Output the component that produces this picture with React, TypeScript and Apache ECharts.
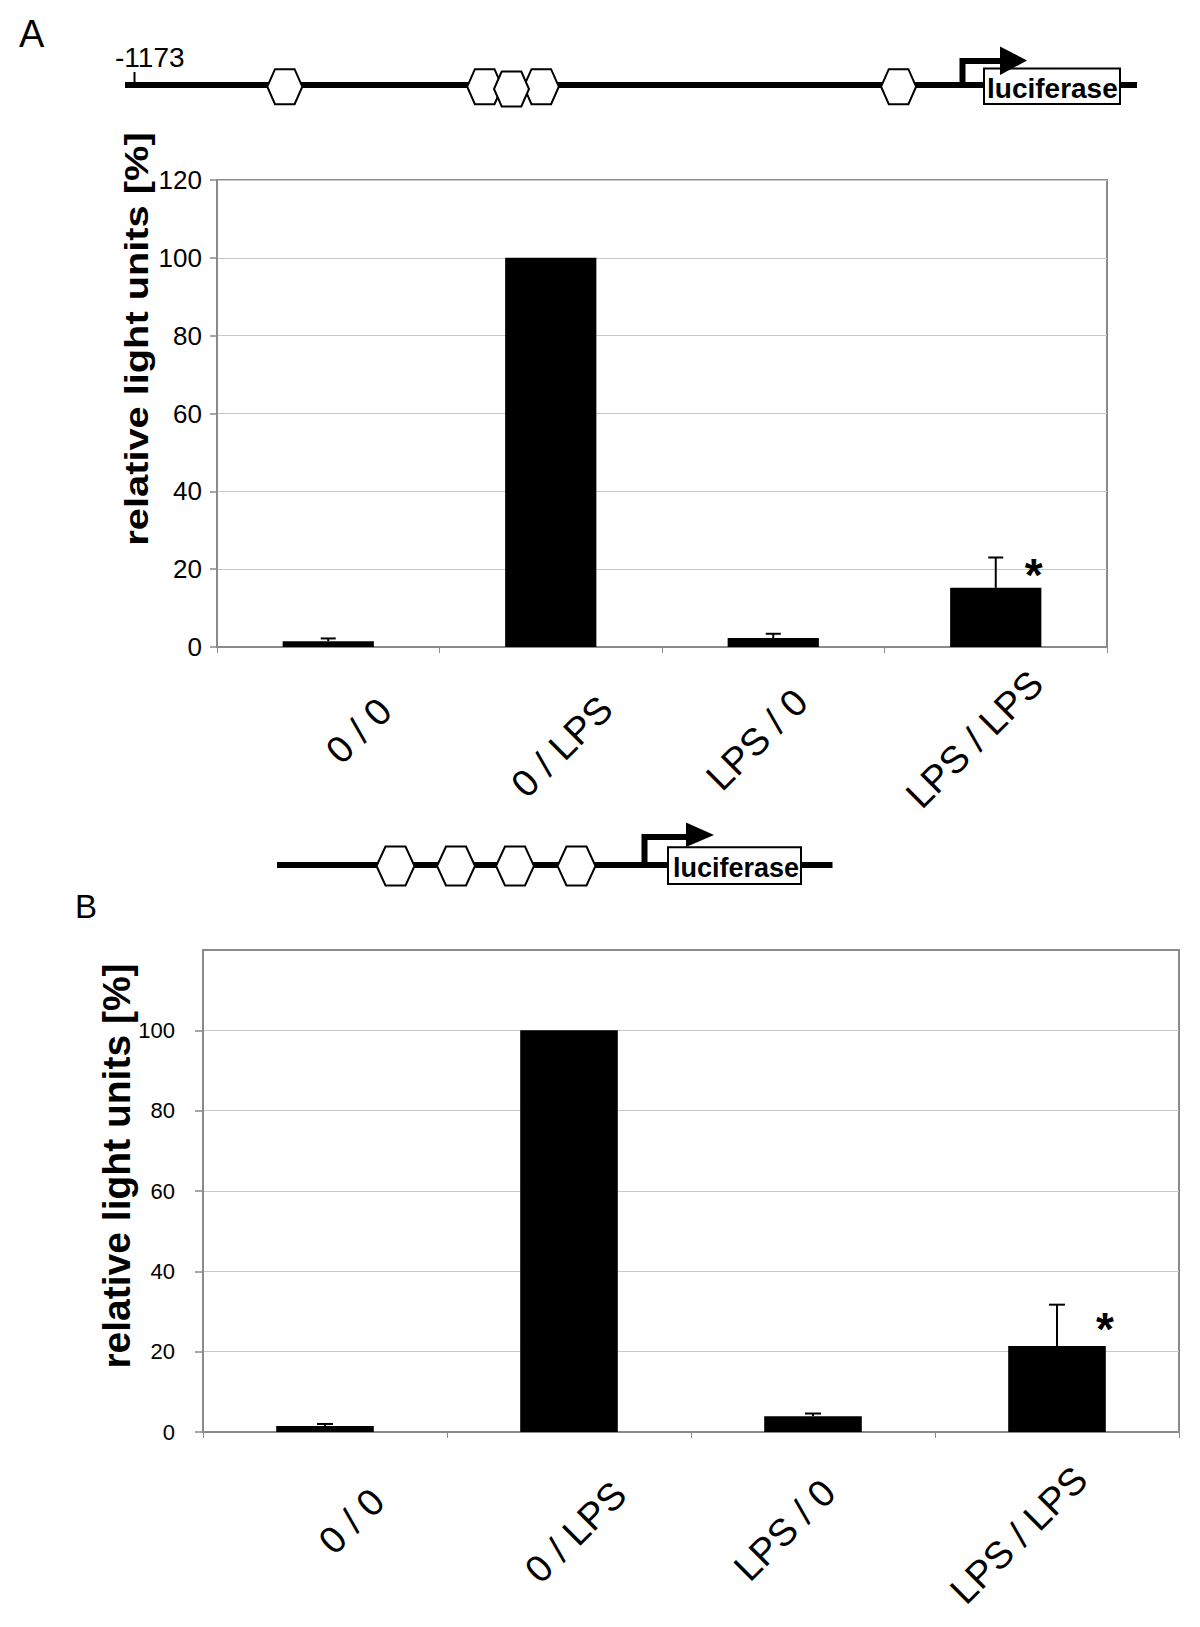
import React, { useEffect, useRef } from 'react';
import * as echarts from 'echarts';

// ---------- data ----------
const categories = ['0 / 0', '0 / LPS', 'LPS / 0', 'LPS / LPS'];
const valuesA = [1.5, 100, 2.3, 15.2];
const errorsA = [0.7, 0, 1.1, 7.8];
const significantA = [0, 0, 0, 1];
const valuesB = [1.5, 100, 3.9, 21.4];
const errorsB = [0.5, 0, 0.7, 10.3];
const significantB = [0, 0, 0, 1];
const yTicksA = [0, 20, 40, 60, 80, 100, 120];
const yTicksB = [0, 20, 40, 60, 80, 100];
const yMax = 120;
const yTitle = 'relative light units [%]';
const panelLabels = ['A', 'B'];
const promoterStart = '-1173';
const reporter = 'luciferase';

// ---------- styling / layout ----------
const FONT = '"Liberation Sans", Arial, Helvetica, sans-serif';
const AXIS_GRAY = '#8a8a8a';
const GRID_GRAY = '#c8c8c8';
const CAT_FONT = 38;
// per-label [paddingTop, paddingRight] used to reproduce the original placement of rotated labels
const labelPadA = [
  [69.6, 8.4],
  [67.1, 8.0],
  [42.7, 22.5],
  [39.1, 0.6],
];
const labelPadB = [
  [59.3, 3.8],
  [53.0, 0.2],
  [26.8, 23.6],
  [23.3, 8.7],
];

function yAxisCfg(gridIndex: number, ticks: number[], fontSize: number, margin: number, tickLen: number) {
  return {
    type: 'value',
    gridIndex,
    min: 0,
    max: yMax,
    interval: 20,
    axisLine: { show: true, lineStyle: { color: AXIS_GRAY, width: 2 } },
    axisTick: { show: true, length: tickLen, lineStyle: { color: AXIS_GRAY, width: 1.5 }, customValues: ticks },
    axisLabel: {
      customValues: ticks,
      formatter: (v: number) => (ticks.includes(v) ? String(v) : ''),
      fontSize,
      fontFamily: FONT,
      color: '#000',
      margin,
    },
    splitLine: { show: true, lineStyle: { color: GRID_GRAY, width: 1 } },
  };
}

function xAxisCfg(gridIndex: number, pads: number[][], margin: number) {
  const rich: any = {};
  pads.forEach((p, i) => {
    rich['l' + i] = {
      fontSize: CAT_FONT,
      fontFamily: FONT,
      color: '#000',
      padding: [p[0], p[1], 0, 0],
    };
  });
  return {
    type: 'category',
    gridIndex,
    data: categories,
    boundaryGap: true,
    axisLine: { show: true, lineStyle: { color: AXIS_GRAY, width: 2 } },
    axisTick: { show: true, length: 6, lineStyle: { color: AXIS_GRAY, width: 1 } },
    axisLabel: {
      interval: 0,
      rotate: 45,
      align: 'right',
      verticalAlign: 'top',
      margin,
      fontSize: CAT_FONT,
      fontFamily: FONT,
      color: '#000',
      formatter: (value: string, index: number) => `{l${index}|${value}}`,
      rich,
    },
    splitLine: { show: false },
  };
}

const makeErrorRenderer =
  (lineWidth: number, capHalf: number, starDx: number, starDy: number, starSize: number) =>
  (params: any, api: any) => {
    const i = api.value(0);
    const v = api.value(1);
    const e = api.value(2);
    const s = api.value(3);
    const base = api.coord([i, v]);
    const top = api.coord([i, v + e]);
    const children: any[] = [];
    if (e > 0) {
      children.push({
        type: 'line',
        shape: { x1: base[0], y1: base[1], x2: top[0], y2: top[1] },
        style: { stroke: '#000', lineWidth },
      });
      children.push({
        type: 'line',
        shape: { x1: top[0] - capHalf, y1: top[1], x2: top[0] + capHalf, y2: top[1] },
        style: { stroke: '#000', lineWidth },
      });
    }
    if (s) {
      children.push({
        type: 'text',
        x: top[0] + starDx,
        y: top[1] + starDy + 0.21 * starSize,
        style: {
          text: '*',
          fontSize: starSize,
          fontWeight: 'bold',
          fontFamily: FONT,
          fill: '#000',
          align: 'center',
          verticalAlign: 'middle',
        },
      });
    }
    return { type: 'group', children };
  };

const hex = (cx: number, cy: number, hw: number, hh: number, inset: number) => ({
  type: 'polygon',
  shape: {
    points: [
      [cx - hw, cy],
      [cx - hw + inset, cy - hh],
      [cx + hw - inset, cy - hh],
      [cx + hw, cy],
      [cx + hw - inset, cy + hh],
      [cx - hw + inset, cy + hh],
    ],
  },
  style: { fill: '#fff', stroke: '#000', lineWidth: 2 },
});

const txt = (x: number, y: number, text: string, fontSize: number, extra: any = {}, styleExtra: any = {}) => ({
  type: 'text',
  x,
  y,
  ...extra,
  style: {
    text,
    fontSize,
    fontFamily: FONT,
    fill: '#000',
    align: 'left',
    verticalAlign: 'middle',
    ...styleExtra,
  },
});

function buildGraphics() {
  const els: any[] = [];
  // Panel labels
  els.push(txt(19, 33.5, panelLabels[0], 38));
  els.push(txt(75, 906, panelLabels[1], 33));

  // ---- Diagram A ----
  els.push({ type: 'line', shape: { x1: 125, y1: 85, x2: 1137, y2: 85 }, style: { stroke: '#000', lineWidth: 6 } });
  els.push({ type: 'line', shape: { x1: 134.5, y1: 72, x2: 134.5, y2: 85 }, style: { stroke: '#000', lineWidth: 2 } });
  els.push(txt(115, 57, promoterStart, 28));
  els.push(hex(284.8, 86.7, 17.5, 17.5, 7.7));
  els.push(hex(484.7, 86.7, 17.5, 17.5, 7.7));
  els.push(hex(541.3, 86.7, 17.5, 17.5, 7.7));
  els.push(hex(511.5, 89, 17.5, 17.5, 7.7));
  els.push(hex(898.6, 86.7, 17.5, 17.5, 7.7));
  els.push({ type: 'rect', shape: { x: 984, y: 68.5, width: 136, height: 35.5 }, style: { fill: '#fff', stroke: '#000', lineWidth: 2 } });
  els.push(txt(987, 88.5, reporter, 28, {}, { fontWeight: 'bold' }));
  els.push({ type: 'polyline', shape: { points: [[962.5, 85], [962.5, 61], [1002, 61]] }, style: { stroke: '#000', lineWidth: 6, fill: 'none' } });
  els.push({ type: 'polygon', shape: { points: [[1000, 46.5], [1000, 75], [1027, 60.5]] }, style: { fill: '#000' } });

  // ---- Diagram B ----
  els.push({ type: 'line', shape: { x1: 277, y1: 865, x2: 832.5, y2: 865 }, style: { stroke: '#000', lineWidth: 6 } });
  els.push(hex(395.5, 866, 19, 19.5, 9));
  els.push(hex(456, 866, 19, 19.5, 9));
  els.push(hex(515, 866, 19, 19.5, 9));
  els.push(hex(576.5, 866, 19, 19.5, 9));
  els.push({ type: 'rect', shape: { x: 668, y: 847.3, width: 133, height: 36.7 }, style: { fill: '#fff', stroke: '#000', lineWidth: 2 } });
  els.push(txt(673, 868, reporter, 27, {}, { fontWeight: 'bold' }));
  els.push({ type: 'polyline', shape: { points: [[644.5, 865], [644.5, 837], [688, 837]] }, style: { stroke: '#000', lineWidth: 6, fill: 'none' } });
  els.push({ type: 'polygon', shape: { points: [[686, 822.5], [686, 847], [714, 835]] }, style: { fill: '#000' } });

  // ---- Y axis titles ----
  els.push(
    txt(137, 339, yTitle, 34, { rotation: Math.PI / 2, scaleX: 1.17 }, { fontWeight: 'bold', align: 'center' })
  );
  els.push(txt(116, 1166, yTitle, 39, { rotation: Math.PI / 2 }, { fontWeight: 'bold', align: 'center' }));
  return els;
}

export default function App() {
  const ref = useRef<HTMLDivElement>(null);
  useEffect(() => {
    if (!ref.current) return;
    const chart = echarts.init(ref.current, undefined, { renderer: 'svg' });
    const option: any = {
      animation: false,
      backgroundColor: '#fff',
      grid: [
        { left: 217, top: 180, width: 890, height: 467, show: true, borderColor: AXIS_GRAY, borderWidth: 2, backgroundColor: 'transparent' },
        { left: 203, top: 950, width: 976, height: 482, show: true, borderColor: AXIS_GRAY, borderWidth: 2, backgroundColor: 'transparent' },
      ],
      xAxis: [xAxisCfg(0, labelPadA, -11), xAxisCfg(1, labelPadB, 5)],
      yAxis: [yAxisCfg(0, yTicksA, 26, 15, 7), yAxisCfg(1, yTicksB, 22, 28, 8)],
      series: [
        {
          type: 'bar',
          xAxisIndex: 0,
          yAxisIndex: 0,
          data: valuesA,
          barWidth: '41%',
          itemStyle: { color: '#000' },
          z: 2,
          silent: true,
        },
        {
          type: 'custom',
          xAxisIndex: 0,
          yAxisIndex: 0,
          data: categories.map((_, i) => [i, valuesA[i], errorsA[i], significantA[i]]),
          encode: { x: 0, y: 1 },
          renderItem: makeErrorRenderer(2, 7.5, 38, 8, 46),
          z: 3,
          silent: true,
        },
        {
          type: 'bar',
          xAxisIndex: 1,
          yAxisIndex: 1,
          data: valuesB,
          barWidth: '40%',
          itemStyle: { color: '#000' },
          z: 2,
          silent: true,
        },
        {
          type: 'custom',
          xAxisIndex: 1,
          yAxisIndex: 1,
          data: categories.map((_, i) => [i, valuesB[i], errorsB[i], significantB[i]]),
          encode: { x: 0, y: 1 },
          renderItem: makeErrorRenderer(2, 8, 48, 15, 46),
          z: 3,
          silent: true,
        },
      ],
      graphic: { elements: buildGraphics() },
    };
    chart.setOption(option);
    return () => chart.dispose();
  }, []);
  return (
    <div
      ref={ref}
      style={{ position: 'absolute', left: 0, top: 0, width: 1200, height: 1627, background: '#fff' }}
    />
  );
}
